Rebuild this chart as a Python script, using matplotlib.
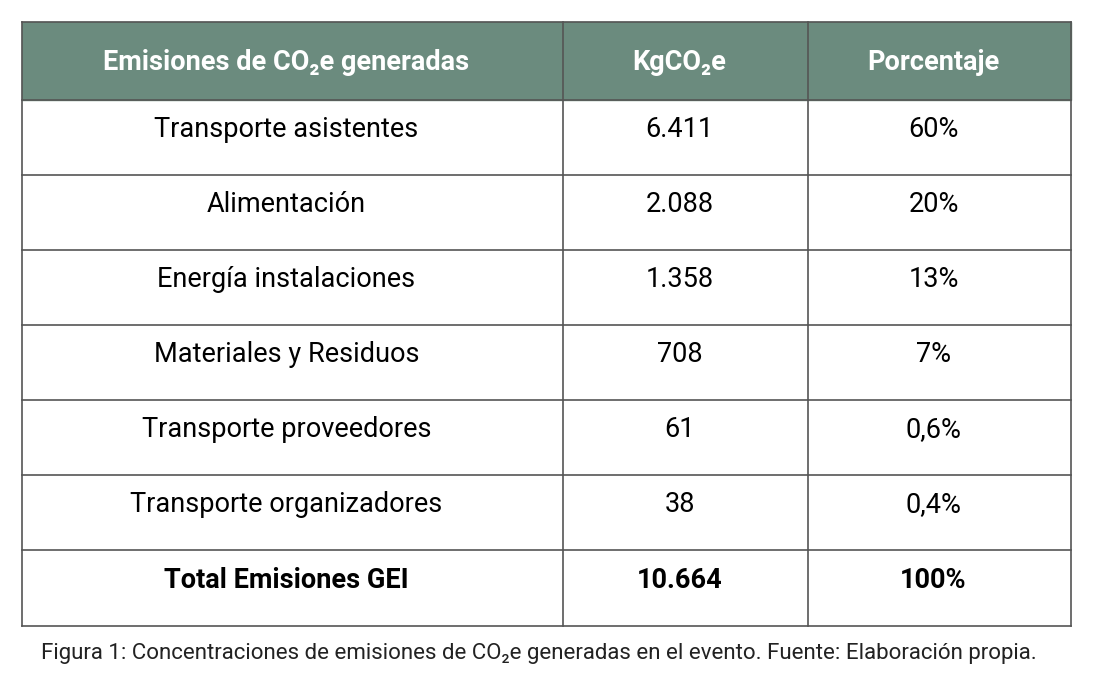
import matplotlib
matplotlib.use("Agg")
import matplotlib.pyplot as plt

plt.rcParams['font.family'] = ['Roboto', 'DejaVu Sans']

headers = ["Emisiones de CO\u2082e generadas", "KgCO\u2082e", "Porcentaje"]
categories = ["Transporte asistentes", "Alimentación", "Energía instalaciones",
              "Materiales y Residuos", "Transporte proveedores", "Transporte organizadores"]
kg_values = ["6.411", "2.088", "1.358", "708", "61", "38"]
percentages = ["60%", "20%", "13%", "7%", "0,6%", "0,4%"]
total_row = ["Total Emisiones GEI", "10.664", "100%"]
caption = ("Figura 1: Concentraciones de emisiones de CO\u2082e generadas en el evento. "
           "Fuente: Elaboración propia.")

# layout in pixels
W, H = 1110, 692
col_x = [22, 563, 808, 1071]
row_y = [22, 100, 175, 250, 325, 400, 475, 550, 626]
header_color = "#6b8b7e"
line_color = "#555555"

fig = plt.figure(figsize=(W / 100, H / 100), dpi=100)
ax = fig.add_axes([0, 0, 1, 1])
ax.set_xlim(0, W)
ax.set_ylim(H, 0)
ax.axis("off")

ax.add_patch(plt.Rectangle((col_x[0], row_y[0]), col_x[-1] - col_x[0], row_y[1] - row_y[0],
                           color=header_color, zorder=1))

for y in row_y:
    ax.plot([col_x[0], col_x[-1]], [y, y], color=line_color, lw=1.2, zorder=2)
for x in col_x:
    ax.plot([x, x], [row_y[0], row_y[-1]], color=line_color, lw=1.2, zorder=2)

def centre(c, r):
    # cell text sits a little left of the true cell centre
    return (col_x[c] + col_x[c + 1]) / 2 - 6, (row_y[r] + row_y[r + 1]) / 2

for c, txt in enumerate(headers):
    x, y = centre(c, 0)
    ax.text(x, y + 2, txt, ha="center", va="center", color="white",
            fontsize=19.5, fontweight="bold", zorder=3)

rows = list(zip(categories, kg_values, percentages))
for r, row in enumerate(rows, start=1):
    for c, txt in enumerate(row):
        x, y = centre(c, r)
        ax.text(x, y - 8, txt, ha="center", va="center", color="black",
                fontsize=19.5, zorder=3)

for c, txt in enumerate(total_row):
    x, y = centre(c, len(rows) + 1)
    ax.text(x, y - 8, txt, ha="center", va="center", color="black",
            fontsize=19.5, fontweight="bold", zorder=3)

ax.text(W / 2 - 16, 653, caption, ha="center", va="center", color="#222222", fontsize=16)

fig.savefig("out.png", dpi=100)
